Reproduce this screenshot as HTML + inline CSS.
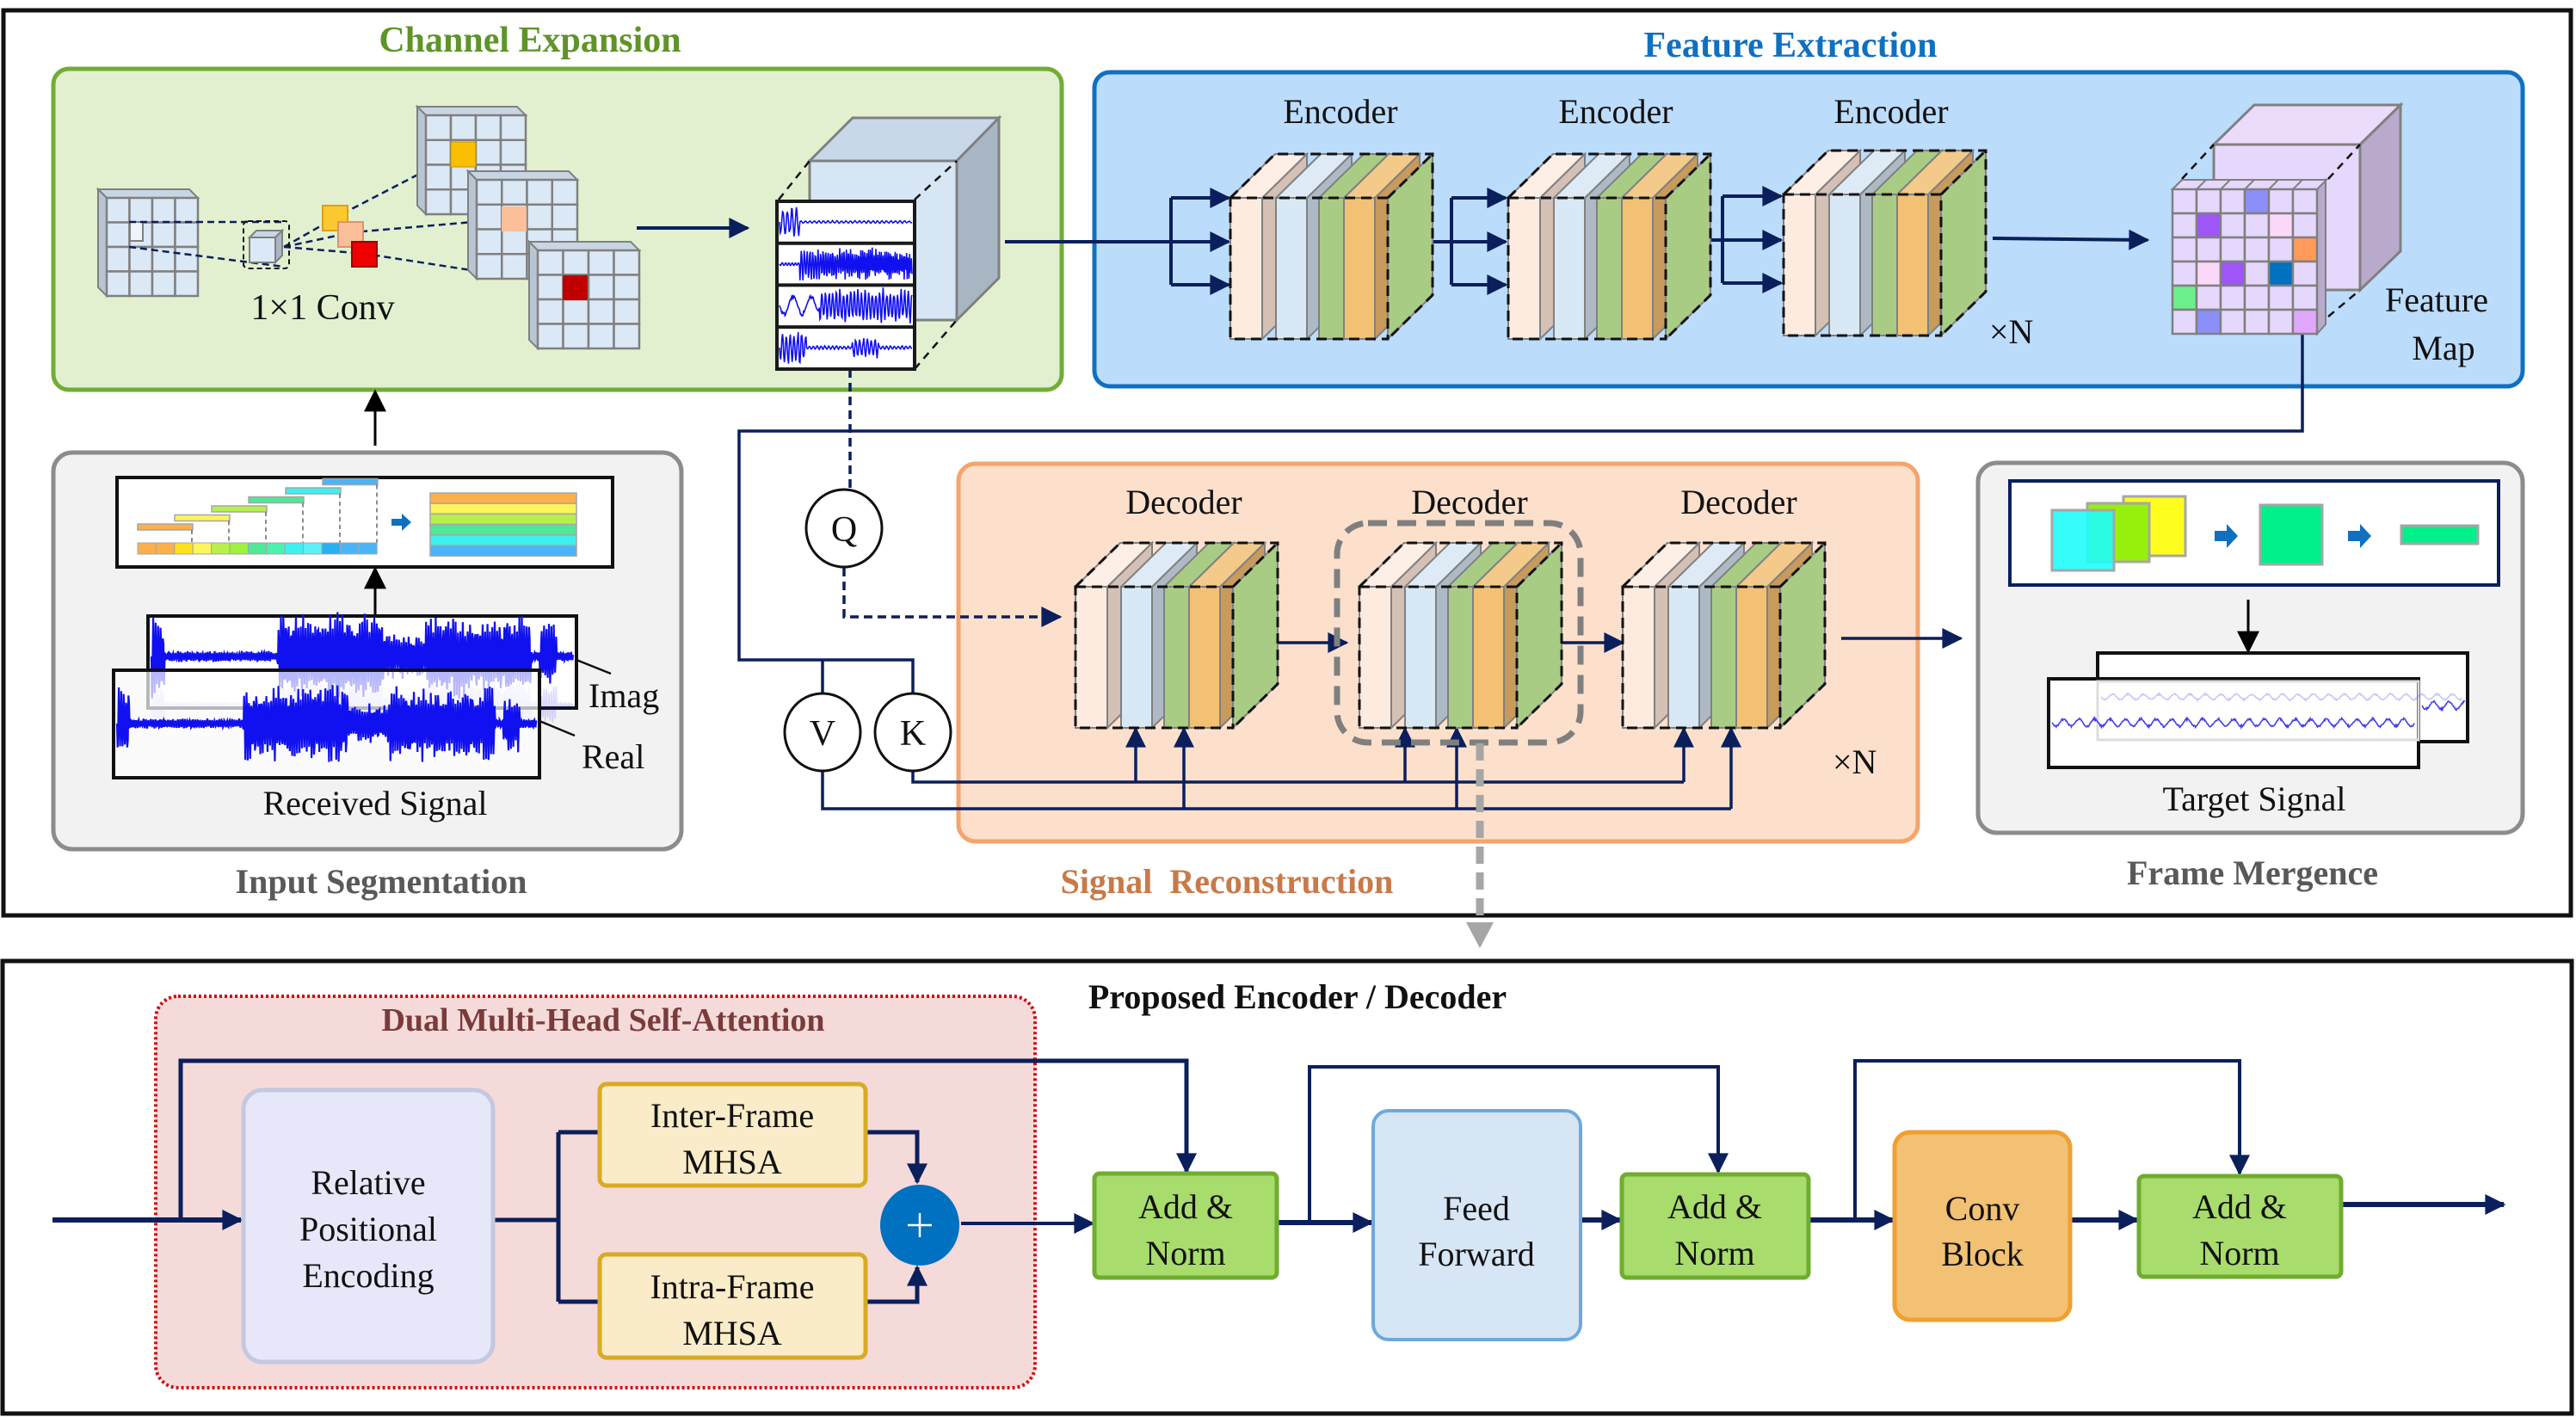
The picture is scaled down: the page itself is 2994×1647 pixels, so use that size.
<!DOCTYPE html>
<html><head><meta charset="utf-8"><style>
html,body{margin:0;padding:0;background:#fff;}
svg{display:block;}
svg text{font-family:"Liberation Serif","Times New Roman","DejaVu Serif",serif !important;}
</style></head><body>
<svg id="s" width="2994" height="1647" viewBox="0 0 2994 1647" xmlns="http://www.w3.org/2000/svg" font-family="Liberation Serif, Times New Roman, DejaVu Serif, serif">
<defs>
<marker id="ahB" viewBox="0 0 10 10" refX="9" refY="5" markerWidth="26" markerHeight="24" orient="auto" markerUnits="userSpaceOnUse"><path d="M0,0 L10,5 L0,10 z" fill="#0b1f5c"/></marker>
<marker id="ahK" viewBox="0 0 10 10" refX="9" refY="5" markerWidth="26" markerHeight="26" orient="auto" markerUnits="userSpaceOnUse"><path d="M0,0 L10,5 L0,10 z" fill="#000"/></marker>
</defs>
<rect x="0" y="0" width="2994" height="1647" fill="#fff"/>
<rect x="4" y="12" width="2984" height="1052" fill="none" stroke="#111" stroke-width="5"/>
<rect x="3" y="1117" width="2986" height="526" fill="none" stroke="#111" stroke-width="5"/>

<text x="616" y="60" text-anchor="middle" font-size="42" font-weight="bold" fill="#5e9428">Channel Expansion</text>
<rect x="62" y="80" width="1172" height="373" rx="18" fill="#e2f0d0" stroke="#72ad33" stroke-width="5"/>
<text x="2081" y="66" text-anchor="middle" font-size="42" font-weight="bold" fill="#1070c0">Feature Extraction</text>
<rect x="1272" y="84" width="1660" height="365" rx="18" fill="#bcdcfc" stroke="#1070c0" stroke-width="5"/>
<rect x="62" y="526" width="730" height="461" rx="22" fill="#f2f2f2" stroke="#8c8c8c" stroke-width="5"/>
<text x="443" y="1038" text-anchor="middle" font-size="40" font-weight="bold" fill="#595959">Input Segmentation</text>
<rect x="1114" y="539" width="1115" height="439" rx="20" fill="#fce0cc" stroke="#f5a46c" stroke-width="5"/>
<text x="1426" y="1038" text-anchor="middle" font-size="40" font-weight="bold" fill="#c87a48" xml:space="preserve">Signal  Reconstruction</text>
<rect x="2299" y="538" width="633" height="430" rx="22" fill="#f2f2f2" stroke="#8c8c8c" stroke-width="5"/>
<text x="2618" y="1028" text-anchor="middle" font-size="40" font-weight="bold" fill="#595959">Frame Mergence</text>

<g font-size="40" fill="#111" text-anchor="middle">
<text x="1558" y="143">Encoder</text>
<text x="1878" y="143">Encoder</text>
<text x="2198" y="143">Encoder</text>
<text x="1376" y="597">Decoder</text>
<text x="1708" y="597">Decoder</text>
<text x="2021" y="597">Decoder</text>
<text x="2312" y="399" text-anchor="start">×N</text>
<text x="2130" y="899" text-anchor="start">×N</text>
<text x="2832" y="362">Feature</text>
<text x="2840" y="418">Map</text>
<text x="375" y="371" font-size="42">1×1 Conv</text>
<text x="684" y="822" text-anchor="start">Imag</text>
<text x="676" y="893" text-anchor="start">Real</text>
<text x="436" y="947">Received Signal</text>
<text x="2620" y="942">Target Signal</text>
</g>

<g stroke="#0b1f5c" stroke-width="4" fill="none">
<line x1="1168" y1="281" x2="1361" y2="281"/>
<path d="M1361,230 V331"/>
<line x1="1361" y1="230" x2="1428" y2="230" marker-end="url(#ahB)"/>
<line x1="1361" y1="281" x2="1428" y2="281" marker-end="url(#ahB)"/>
<line x1="1361" y1="331" x2="1428" y2="331" marker-end="url(#ahB)"/>
<line x1="1665" y1="281" x2="1687" y2="281"/>
<path d="M1687,230 V331"/>
<line x1="1687" y1="230" x2="1750" y2="230" marker-end="url(#ahB)"/>
<line x1="1687" y1="281" x2="1750" y2="281" marker-end="url(#ahB)"/>
<line x1="1687" y1="331" x2="1750" y2="331" marker-end="url(#ahB)"/>
<line x1="1986" y1="279" x2="2002" y2="279"/>
<path d="M2002,228 V329"/>
<line x1="2002" y1="228" x2="2070" y2="228" marker-end="url(#ahB)"/>
<line x1="2002" y1="279" x2="2070" y2="279" marker-end="url(#ahB)"/>
<line x1="2002" y1="329" x2="2070" y2="329" marker-end="url(#ahB)"/>
<line x1="2316" y1="277" x2="2496" y2="279" marker-end="url(#ahB)"/>
<line x1="740" y1="265" x2="869" y2="265" marker-end="url(#ahB)"/>
</g>
<g stroke="#0b1f5c" stroke-width="3.5" fill="none">
<path d="M2676,387 V501 H859 V767 H1061 V806"/>
<path d="M956,767 V806"/>
<path d="M956,896 V940 H2012"/>
<path d="M1061,896 V909 H1957"/>
<line x1="1320" y1="909" x2="1320" y2="847" marker-end="url(#ahB)"/>
<line x1="1376" y1="940" x2="1376" y2="847" marker-end="url(#ahB)"/>
<line x1="1633" y1="909" x2="1633" y2="847" marker-end="url(#ahB)"/>
<line x1="1693" y1="940" x2="1693" y2="847" marker-end="url(#ahB)"/>
<line x1="1957" y1="909" x2="1957" y2="847" marker-end="url(#ahB)"/>
<line x1="2012" y1="940" x2="2012" y2="847" marker-end="url(#ahB)"/>
<line x1="1461" y1="747" x2="1565" y2="747" marker-end="url(#ahB)"/>
<line x1="1797" y1="747" x2="1886" y2="747" marker-end="url(#ahB)"/>
<line x1="2140" y1="742" x2="2279" y2="742" marker-end="url(#ahB)"/>
<path d="M988,429 V568 M981,660 V717 H1232" stroke-dasharray="10,6" marker-end="url(#ahB)"/>
</g>
<g fill="#fff" stroke="#111" stroke-width="3">
<ellipse cx="981" cy="614" rx="44" ry="45"/>
<ellipse cx="956" cy="851" rx="44" ry="45"/>
<ellipse cx="1061" cy="851" rx="44" ry="45"/>
</g>
<g font-size="42" text-anchor="middle" fill="#111">
<text x="981" y="629">Q</text><text x="956" y="866">V</text><text x="1061" y="866">K</text>
</g>
<rect x="1554" y="608" width="283" height="255" rx="36" fill="none" stroke="#7f7f7f" stroke-width="7" stroke-dasharray="22,12"/>
<line x1="1720" y1="864" x2="1720" y2="1075" stroke="#a6a6a6" stroke-width="9" stroke-dasharray="20,10"/>
<path d="M1704,1072 L1736,1072 L1720,1102 z" fill="#a6a6a6"/>

<line x1="436" y1="518" x2="436" y2="455" stroke="#000" stroke-width="3" marker-end="url(#ahK)"/>
<line x1="436" y1="716" x2="436" y2="661" stroke="#000" stroke-width="3" marker-end="url(#ahK)"/>
<rect x="136" y="555" width="576" height="104" fill="#fff" stroke="#111" stroke-width="4"/>

<rect x="2336" y="559" width="568" height="121" fill="#fff" stroke="#0b1f5c" stroke-width="4"/>
<rect x="2468" y="577" width="72" height="69" fill="#fdfd20" stroke="#a6a6a6" stroke-width="3"/>
<rect x="2426" y="585" width="72" height="68" fill="#96f00c" stroke="#a6a6a6" stroke-width="3"/>
<rect x="2385" y="593" width="72" height="70" fill="#20fcfc" stroke="#a6a6a6" stroke-width="3" fill-opacity="0.9"/>
<path d="M2574,617 h14 v-8 l13,14 l-13,14 v-8 h-14z" fill="#1070c0"/>
<rect x="2627" y="587" width="72" height="69" fill="#00f08c" stroke="#a6a6a6" stroke-width="3"/>
<path d="M2729,617 h14 v-8 l13,14 l-13,14 v-8 h-14z" fill="#1070c0"/>
<rect x="2791" y="611" width="89" height="21" fill="#00f08c" stroke="#a6a6a6" stroke-width="3"/>
<line x1="2613" y1="697" x2="2613" y2="757" stroke="#000" stroke-width="3" marker-end="url(#ahK)"/>
<rect x="2438" y="759" width="430" height="103" fill="#fff" stroke="#111" stroke-width="4"/>
<rect x="2381" y="789" width="430" height="103" fill="#fff" stroke="#111" stroke-width="4"/>
<rect x="2438" y="792" width="373" height="68" fill="none" stroke="#ddd" stroke-width="3"/>

<!-- Bottom -->
<text x="1508" y="1172" text-anchor="middle" font-size="40" font-weight="bold" fill="#111">Proposed Encoder / Decoder</text>
<rect x="181" y="1158" width="1022" height="455" rx="26" fill="#f5dada" stroke="#d01010" stroke-width="4" stroke-dasharray="3,3"/>
<text x="701" y="1198" text-anchor="middle" font-size="38" font-weight="bold" fill="#7a3b3b">Dual Multi-Head Self-Attention</text>
<g stroke="#0b1f5c" fill="none">
<path d="M210,1418 V1233 H1379 V1362" stroke-width="5" marker-end="url(#ahB)"/>
<line x1="61" y1="1418" x2="280" y2="1418" stroke-width="6" marker-end="url(#ahB)"/>
<path d="M573,1418 H649 M649,1316 V1513 M649,1316 H697 M649,1513 H697" stroke-width="5"/>
<path d="M1006,1316 H1066 V1374" stroke-width="5" marker-end="url(#ahB)"/>
<path d="M1006,1513 H1066 V1473" stroke-width="5" marker-end="url(#ahB)"/>
<line x1="1117" y1="1422" x2="1270" y2="1422" stroke-width="4" marker-end="url(#ahB)"/>
<line x1="1484" y1="1421" x2="1594" y2="1421" stroke-width="6" marker-end="url(#ahB)"/>
<path d="M1522,1421 V1240 H1997 V1362" stroke-width="4" marker-end="url(#ahB)"/>
<line x1="1837" y1="1418" x2="1883" y2="1418" stroke-width="6" marker-end="url(#ahB)"/>
<line x1="2102" y1="1418" x2="2200" y2="1418" stroke-width="6" marker-end="url(#ahB)"/>
<path d="M2156,1418 V1233 H2603 V1364" stroke-width="4" marker-end="url(#ahB)"/>
<line x1="2406" y1="1418" x2="2484" y2="1418" stroke-width="6" marker-end="url(#ahB)"/>
<line x1="2721" y1="1400" x2="2910" y2="1400" stroke-width="6" marker-end="url(#ahB)"/>
</g>
<rect x="283" y="1267" width="290" height="316" rx="22" fill="#e6e8fa" stroke="#c4c8e0" stroke-width="5"/>
<rect x="697" y="1260" width="309" height="118" rx="8" fill="#faecc8" stroke="#d8ab24" stroke-width="5"/>
<rect x="697" y="1458" width="309" height="120" rx="8" fill="#faecc8" stroke="#d8ab24" stroke-width="5"/>
<ellipse cx="1069" cy="1424" rx="46" ry="47" fill="#0070c0"/>
<path d="M1069,1410 V1438 M1055,1424 H1083" stroke="#fff" stroke-width="2.5"/>
<rect x="1272" y="1364" width="212" height="121" rx="6" fill="#a8dc6c" stroke="#6fad2e" stroke-width="5"/>
<rect x="1596" y="1291" width="241" height="266" rx="18" fill="#d6e6f4" stroke="#6fa8dc" stroke-width="4"/>
<rect x="1885" y="1365" width="217" height="120" rx="6" fill="#a8dc6c" stroke="#6fad2e" stroke-width="5"/>
<rect x="2202" y="1316" width="204" height="218" rx="18" fill="#f2c174" stroke="#f0a030" stroke-width="5"/>
<rect x="2486" y="1367" width="235" height="117" rx="6" fill="#a8dc6c" stroke="#6fad2e" stroke-width="5"/>
<g font-size="40" text-anchor="middle" fill="#111">
<text x="428" y="1388">Relative</text>
<text x="428" y="1442">Positional</text>
<text x="428" y="1496">Encoding</text>
<text x="851" y="1310">Inter-Frame</text>
<text x="851" y="1364">MHSA</text>
<text x="851" y="1509">Intra-Frame</text>
<text x="851" y="1563">MHSA</text>
<text x="1378" y="1416">Add &amp;</text>
<text x="1378" y="1470">Norm</text>
<text x="1716" y="1418">Feed</text>
<text x="1716" y="1471">Forward</text>
<text x="1993" y="1416">Add &amp;</text>
<text x="1993" y="1470">Norm</text>
<text x="2304" y="1418">Conv</text>
<text x="2304" y="1471">Block</text>
<text x="2603" y="1416">Add &amp;</text>
<text x="2603" y="1470">Norm</text>
</g>
<g id="dyn"></g>
</svg>
<script>
(function(){
var NS="http://www.w3.org/2000/svg", g=document.getElementById('dyn');
function el(t,a){var e=document.createElementNS(NS,t);for(var k in a)e.setAttribute(k,a[k]);g.appendChild(e);return e;}
function poly(pts,a){a.points=pts.map(function(p){return p[0]+','+p[1]}).join(' ');return el('polygon',a);}
var seed=7;function rnd(){seed=(seed*16807)%2147483647;return seed/2147483647;}
function stack(x0,y0){
 var H=164,dx=52,dy=-51;
 var sl=[[0,37,'#fdebe0','#d4c0b5','#fdeee6'],[53,89,'#d8e8f5','#adbac6','#deebf7'],[103,132,'#a9cc85','#a9cc85','#a9cc85'],[132,168,'#f2c174','#c89a5c','#f3ca8a']];
 sl.forEach(function(s){var a=x0+s[0],b=x0+s[1];
  poly([[b,y0],[b+dx,y0+dy],[b+dx,y0+H+dy],[b,y0+H]],{fill:s[3],stroke:'#808080','stroke-width':2});
  poly([[a,y0],[b,y0],[b+dx,y0+dy],[a+dx,y0+dy]],{fill:s[4],stroke:'#808080','stroke-width':2});
  el('rect',{x:a,y:y0,width:b-a,height:H,fill:s[2],stroke:'#808080','stroke-width':2});
 });
 poly([[x0+183,y0],[x0+235,y0+dy],[x0+235,y0+H+dy],[x0+183,y0+H]],{fill:'#a9cc85',stroke:'#808080','stroke-width':2});
 var d={fill:'none',stroke:'#111','stroke-width':3,'stroke-dasharray':'12,7'};
 el('rect',Object.assign({x:x0,y:y0,width:183,height:H},d));
 el('path',Object.assign({d:'M'+x0+','+y0+' l'+dx+','+dy+' H'+(x0+235)+' V'+(y0+H+dy)+' L'+(x0+183)+','+(y0+H)+' M'+(x0+183)+','+y0+' l'+dx+','+dy},d));
}
[[1430,230],[1753,230],[2073,226],[1250,682],[1580,682],[1886,682]].forEach(function(p){stack(p[0],p[1]);});
function grid(x,y,w,h,n,fill,cells,t){
 var c=(w)/n, r=(h)/n;
 poly([[x,y],[x+t,y-t],[x+w+t,y-t],[x+w,y]],{fill:fill,stroke:'#808080','stroke-width':2});
 for(var i=0;i<n;i++){poly([[x+i*c,y],[x+i*c+t,y-t]],{fill:'none',stroke:'#808080','stroke-width':2});}
 for(var i=0;i<n;i++)for(var j=0;j<n;j++){var f=(cells&&cells[i+','+j])||fill;el('rect',{x:x+j*c,y:y+i*r,width:c,height:r,fill:f,stroke:'#808080','stroke-width':2.5});}
}
function gridL(x,y,w,h,n,fill,t){
 poly([[x,y],[x-t,y-t],[x+w-t,y-t],[x+w,y]],{fill:'#c8d6e4',stroke:'#808080','stroke-width':2});
 poly([[x,y],[x-t,y-t],[x-t,y+h-t],[x,y+h]],{fill:'#b8c6d4',stroke:'#808080','stroke-width':2});
 var c=w/n,r=h/n;for(var i=0;i<n;i++)for(var j=0;j<n;j++)el('rect',{x:x+j*c,y:y+i*r,width:c,height:r,fill:fill,stroke:'#808080','stroke-width':2.5});
}
gridL(124,230,106,114,4,'#dbe8f5',10);
el('rect',{x:151,y:258,width:15,height:22,fill:'#eef4fa',stroke:'#808080','stroke-width':2});
var dl={stroke:'#0b1f5c','stroke-width':2.5,'stroke-dasharray':'8,5',fill:'none'};
el('path',Object.assign({d:'M150,258 L330,258 M150,287 L330,310'},dl));
el('path',Object.assign({d:'M330,287 L395,250 L530,180 M330,287 L410,270 L585,255 M330,287 L425,295 L650,330'},dl));
gridL(495,134,116,115,4,'#dbe8f5',10);
gridL(554,209,117,115,4,'#dbe8f5',10);
gridL(625,291,118,114,4,'#dbe8f5',10);
el('rect',{x:524,y:165,width:29,height:29,fill:'#fbbf00',stroke:'#c09000','stroke-width':1});
el('rect',{x:583,y:240,width:29,height:29,fill:'#fbbf9a'});
el('rect',{x:654,y:320,width:29,height:29,fill:'#c00000'});
el('rect',{x:283,y:257,width:53,height:55,rx:5,fill:'none',stroke:'#111','stroke-width':2,'stroke-dasharray':'6,4'});
poly([[290,276],[298,268],[328,268],[320,276]],{fill:'#c8d6e4',stroke:'#808080','stroke-width':2});
poly([[320,276],[328,268],[328,297],[320,305]],{fill:'#a9b6c3',stroke:'#808080','stroke-width':2});
el('rect',{x:290,y:276,width:30,height:29,fill:'#dbe8f5',stroke:'#808080','stroke-width':2});
el('rect',{x:375,y:239,width:29,height:29,fill:'#fcc830',stroke:'#e0a000','stroke-width':2});
el('rect',{x:393,y:258,width:29,height:29,fill:'#fbbf9a',stroke:'#e09070','stroke-width':2});
el('rect',{x:409,y:281,width:29,height:29,fill:'#ee0000',stroke:'#a00000','stroke-width':2});
poly([[941,187],[991,137],[1161,137],[1112,187]],{fill:'#c8d8e8',stroke:'#808080','stroke-width':3});
poly([[1112,187],[1161,137],[1161,323],[1112,372]],{fill:'#a9b6c3',stroke:'#808080','stroke-width':3});
el('rect',{x:941,y:187,width:171,height:185,fill:'#d6e6f4',stroke:'#808080','stroke-width':3});
el('path',{d:'M905,232 L941,187 M1063,232 L1112,187 M1063,429 L1112,372',stroke:'#111','stroke-width':2.5,'stroke-dasharray':'9,7',fill:'none'});
el('rect',{x:903,y:234,width:160,height:195,fill:'#fff',stroke:'#1a1a1a','stroke-width':4});
for(var k=1;k<4;k++)el('line',{x1:903,y1:234+k*48.7,x2:1063,y2:234+k*48.7,stroke:'#1a1a1a','stroke-width':4});
function wave(x,y,w,h,env,fr,col,op,sw){
 var d='';for(var i=0;i<=w;i+=0.7){var t=i/w;var a=env(t)*h/2;var v=Math.sin(i*fr(t))*a*(0.5+0.5*rnd());d+=(i?'L':'M')+(x+i).toFixed(1)+','+(y+v).toFixed(1);}
 el('path',{d:d,stroke:col,'stroke-width':sw||1.6,fill:'none','stroke-opacity':op||1});
}
var blue='#1010f0';
wave(906,258,154,40,function(t){return t<0.15?0.9:0.08},function(t){return 1.2},blue);
wave(906,307,154,44,function(t){return t<0.15?0.1:0.9},function(t){return 1.5+t},blue);
wave(906,355,154,44,function(t){return t<0.3?0.6:0.95},function(t){return t<0.3?0.3:1.5},blue);
wave(906,404,154,44,function(t){return t<0.2?1:(t>0.55&&t<0.75?0.6:0.1)},function(t){return 1.4},blue);
var cols=['#fbb04c','#fdf45c','#b7f04a','#4ee896','#3ef0f0','#4ab4f8'];
for(var i=0;i<6;i++){el('rect',{x:160+43*i,y:609-10.5*i,width:64,height:7,fill:cols[i],stroke:'#a6a6a6','stroke-width':1.5});
 el('line',{x1:223+43*i,y1:616-10.5*i,x2:223+43*i,y2:631,stroke:'#666','stroke-width':1.5,'stroke-dasharray':'5,4'});}
var bc=['#fbb04c','#fbb04c','#fde020','#fdf45c','#b7f04a','#a0f040','#4ee896','#4ef0b0','#3ef0f0','#5ef0f8','#28b0f0','#4ab4f8','#4ab4f8'];
for(var i=0;i<13;i++)el('rect',{x:160+i*21.4,y:631,width:21.4,height:13,fill:bc[i],stroke:'#a6a6a6','stroke-width':1});
el('path',{d:'M455,603 h12 v-6 l11,10 l-11,10 v-6 h-12z',fill:'#1070c0'});
for(var i=0;i<6;i++)el('rect',{x:500,y:573+i*12.2,width:170,height:12.2,fill:cols[i],stroke:'#a6a6a6','stroke-width':1.5});
// received signal
el('rect',{x:172,y:716,width:498,height:107,fill:'#fff',stroke:'#111','stroke-width':4});
el('line',{x1:670,y1:767,x2:710,y2:783,stroke:'#111','stroke-width':2.5});
el('line',{x1:627,y1:838,x2:668,y2:855,stroke:'#111','stroke-width':2.5});
function envS(t){if(t<0.03)return 0.9;if(t>0.3&&t<0.55)return 0.95;if(t>0.55&&t<0.65)return 0.5;if(t>0.65&&t<0.9)return 0.9;if(t>0.92&&t<0.96)return 0.7;return 0.12;}
wave(176,763,490,110,envS,function(t){return 2.2},blue,1,2.2);
wave(176,820,490,70,envS,function(t){return 2.2},blue,0.15);
el('rect',{x:132,y:779,width:495,height:125,fill:'#fff','fill-opacity':0.7,stroke:'#111','stroke-width':4});
wave(136,841,488,100,envS,function(t){return 2.2},blue,1,2.2);
wave(2442,810,420,14,function(){return 0.6},function(){return 0.35},'#6060f0',0.35);
wave(2385,840,422,16,function(){return 0.7},function(){return 0.35},'#4040f0');
wave(2815,820,50,16,function(){return 0.7},function(){return 0.35},'#4040f0');
// feature map
poly([[2573,168],[2620,122],[2790,122],[2743,168]],{fill:'#ebdcfc',stroke:'#808080','stroke-width':3});
poly([[2743,168],[2790,122],[2790,292],[2743,337]],{fill:'#b9aacb',stroke:'#808080','stroke-width':3});
el('rect',{x:2573,y:168,width:170,height:169,fill:'#e6d8fc',stroke:'#808080','stroke-width':3});
el('path',{d:'M2536,208 L2573,168 M2706,208 L2743,168 M2706,368 L2743,337',stroke:'#111','stroke-width':2.5,'stroke-dasharray':'9,7',fill:'none'});
poly([[2693,220],[2703,209],[2703,377],[2693,388]],{fill:'#b9aacb',stroke:'#808080','stroke-width':2});
var cc={'0,3':'#8c8ff8','1,1':'#9f56f8','1,4':'#fcd8f8','2,5':'#ff9a5a','3,1':'#fcd8f8','3,2':'#9f56f8','3,4':'#0070c0','4,0':'#6cef8c','5,1':'#8c8ff8','5,5':'#e0a8fc'};
grid(2525,220,168,168,6,'#e6d8fc',cc,11);
})();
</script>
</body></html>
